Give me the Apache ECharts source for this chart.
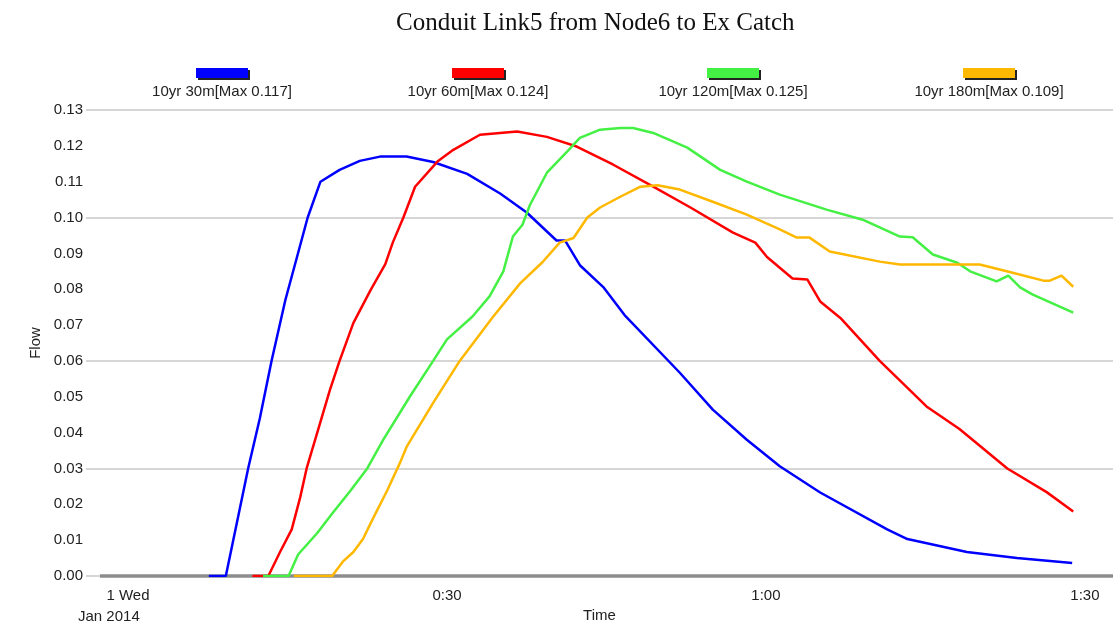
<!DOCTYPE html>
<html>
<head>
<meta charset="utf-8">
<script src="https://cdn.jsdelivr.net/npm/echarts@6/dist/echarts.min.js"></script>
<style>
  html, body { margin: 0; padding: 0; background: #fff; }
  #chart { width: 1113px; height: 628px; }
</style>
</head>
<body>
<div id="chart"></div>
<script>
// series names / colours
var seriesNames = ['10yr 30m[Max 0.117]', '10yr 60m[Max 0.124]', '10yr 120m[Max 0.125]', '10yr 180m[Max 0.109]'];
var seriesColors = ['#0000ff', '#ff0000', '#44f044', '#ffb800'];

// time in minutes from 1 Wed Jan 2014 00:00, flow values
var t30 = [7.6, 9.2, 11.3, 12.4, 13.5, 14.8, 16.9, 18.1, 19.9, 21.8, 23.7, 26.2, 28.7, 31.9, 35.0, 37.5, 40.3, 41.1, 42.5, 44.7, 46.7, 51.9, 55.0, 58.2, 61.3, 65.1, 71.4, 73.3, 78.9, 83.6, 88.8];
var q30 = [0, 0, 0.030, 0.044, 0.060, 0.077, 0.100, 0.110, 0.1133, 0.1158, 0.1170, 0.1170, 0.1155, 0.1122, 0.1067, 0.1014, 0.0936, 0.0936, 0.0867, 0.0806, 0.0728, 0.0567, 0.0464, 0.0380, 0.0306, 0.0233, 0.0130, 0.0103, 0.0067, 0.0050, 0.0036];

var t60 = [11.7, 13.2, 14.3, 15.4, 16.2, 16.8, 17.8, 19.0, 19.9, 21.2, 22.8, 24.2, 24.9, 25.9, 27.0, 29.1, 30.6, 33.1, 36.6, 39.4, 42.2, 45.6, 49.4, 52.9, 56.9, 59.0, 60.1, 62.5, 63.9, 65.1, 67.0, 70.7, 75.1, 78.2, 82.7, 86.4, 88.9];
var q60 = [0, 0, 0.0067, 0.013, 0.022, 0.030, 0.040, 0.052, 0.060, 0.0706, 0.0797, 0.087, 0.093, 0.100, 0.1086, 0.1156, 0.1189, 0.1231, 0.1240, 0.1225, 0.1198, 0.1148, 0.1086, 0.1028, 0.0958, 0.093, 0.089, 0.083, 0.0827, 0.0766, 0.072, 0.060, 0.0473, 0.041, 0.030, 0.0234, 0.018];

var t120 = [12.7, 15.1, 16.0, 17.8, 19.3, 20.9, 22.5, 24.0, 26.5, 28.7, 30.0, 32.4, 34.0, 35.3, 36.2, 37.1, 37.8, 39.4, 41.3, 42.5, 44.4, 46.3, 47.5, 49.4, 52.6, 55.7, 58.2, 61.3, 65.7, 69.1, 72.6, 73.8, 75.7, 78.0, 79.2, 81.7, 82.8, 83.9, 85.1, 88.9];
var q120 = [0, 0, 0.006, 0.012, 0.0178, 0.0237, 0.030, 0.038, 0.050, 0.060, 0.066, 0.0724, 0.078, 0.085, 0.0947, 0.098, 0.1035, 0.1125, 0.1184, 0.1222, 0.1245, 0.125, 0.125, 0.1236, 0.1195, 0.1133, 0.110, 0.1064, 0.1022, 0.0994, 0.0947, 0.0945, 0.0897, 0.0874, 0.085, 0.0822, 0.0838, 0.0805, 0.0785, 0.0735];

var t180 = [15.6, 19.2, 20.2, 21.2, 22.1, 23.0, 24.4, 25.6, 26.2, 28.7, 31.2, 34.3, 36.9, 39.0, 40.6, 41.9, 43.2, 44.4, 46.3, 48.2, 49.8, 51.9, 55.0, 58.2, 61.3, 62.9, 64.1, 66.0, 70.7, 72.6, 80.1, 83.2, 86.1, 86.7, 87.8, 88.9];
var q180 = [0, 0, 0.004, 0.0067, 0.0103, 0.0158, 0.024, 0.0317, 0.036, 0.0483, 0.060, 0.0722, 0.0817, 0.0876, 0.093, 0.0943, 0.100, 0.1028, 0.1058, 0.1086, 0.109, 0.1078, 0.1044, 0.1008, 0.0967, 0.0944, 0.0944, 0.0905, 0.0877, 0.0869, 0.0869, 0.0846, 0.0824, 0.0824, 0.0838, 0.0807];

// axis ticks
var xTickValues = [0, 30, 60, 90];
var xTickLabels = ['1 Wed', '0:30', '1:00', '1:30'];
var gridValues = [0.13, 0.10, 0.06, 0.03, 0.00];

var times = [t30, t60, t120, t180];
var flows = [q30, q60, q120, q180];

var xMin = -3.95, xMax = 92.64;
var labelFont = '"Liberation Sans", Arial, sans-serif';

var series = [];
for (var i = 0; i < seriesNames.length; i++) {
    var pts = [];
    for (var j = 0; j < times[i].length; j++) {
        pts.push([times[i][j], flows[i][j]]);
    }
    series.push({
        name: seriesNames[i],
        type: 'line',
        data: pts,
        showSymbol: false,
        symbol: 'none',
        lineStyle: { color: seriesColors[i], width: 2.5 },
        itemStyle: { color: seriesColors[i] },
        z: 3
    });
}
// grid lines + thick time axis bar
series[0].markLine = {
    silent: true,
    symbol: 'none',
    label: { show: false },
    z: 1,
    lineStyle: { color: '#c8c8c8', width: 1.5, type: 'solid' },
    data: gridValues.map(function (v) { return { yAxis: v }; }).concat([
        [{ coord: [-2.63, 0], lineStyle: { color: '#8c8c8c', width: 3.5, type: 'solid' } },
         { coord: [xMax, 0] }]
    ])
};

// legend: coloured bar above its text
var legendX = [222, 478, 733, 989];
var graphics = [];
for (var k = 0; k < seriesNames.length; k++) {
    graphics.push({
        type: 'rect', left: legendX[k] - 24, top: 70, z: 1,
        shape: { width: 52, height: 10 },
        style: { fill: '#222' }
    });
    graphics.push({
        type: 'rect', left: legendX[k] - 26, top: 68, z: 2,
        shape: { width: 52, height: 10 },
        style: { fill: seriesColors[k] }
    });
    graphics.push({
        type: 'text', x: legendX[k], y: 92, z: 2,
        style: {
            text: seriesNames[k], fill: '#222',
            font: '15px ' + labelFont,
            align: 'center', verticalAlign: 'middle'
        }
    });
}
graphics.push({
    type: 'text', x: 78, y: 617,
    style: {
        text: 'Jan 2014', fill: '#222',
        font: '15px ' + labelFont,
        align: 'left', verticalAlign: 'middle'
    }
});

var myChart = echarts.init(document.getElementById('chart'), null, { renderer: 'canvas' });
var option = {
    backgroundColor: '#ffffff',
    animation: false,
    title: {
        text: 'Conduit Link5 from Node6 to Ex Catch',
        left: 391,
        top: 6,
        textStyle: {
            fontFamily: '"Liberation Serif", "Times New Roman", serif',
            fontWeight: 'normal',
            fontSize: 25,
            color: '#111'
        }
    },
    grid: { left: 86, right: 0, top: 110, bottom: 51 },
    xAxis: {
        type: 'value',
        min: xMin,
        max: xMax,
        name: 'Time',
        nameLocation: 'middle',
        nameGap: 32,
        nameTextStyle: { fontFamily: labelFont, fontSize: 15, color: '#222' },
        axisLine: { show: false },
        axisTick: { show: false },
        splitLine: { show: false },
        axisLabel: {
            customValues: xTickValues,
            margin: 12,
            fontFamily: labelFont,
            fontSize: 15,
            color: '#222',
            formatter: function (v) {
                var idx = xTickValues.indexOf(v);
                return idx >= 0 ? xTickLabels[idx] : '';
            }
        }
    },
    yAxis: {
        type: 'value',
        min: 0,
        max: 0.13,
        interval: 0.01,
        name: 'Flow',
        nameLocation: 'middle',
        nameRotate: 90,
        nameGap: 42,
        nameTextStyle: { fontFamily: labelFont, fontSize: 15, color: '#222' },
        axisLine: { show: false },
        axisTick: { show: false },
        splitLine: { show: false },
        axisLabel: {
            margin: 3,
            fontFamily: labelFont,
            fontSize: 15,
            color: '#222',
            formatter: function (v) { return v.toFixed(2); }
        }
    },
    graphic: graphics,
    series: series
};
myChart.setOption(option);
</script>
</body>
</html>
